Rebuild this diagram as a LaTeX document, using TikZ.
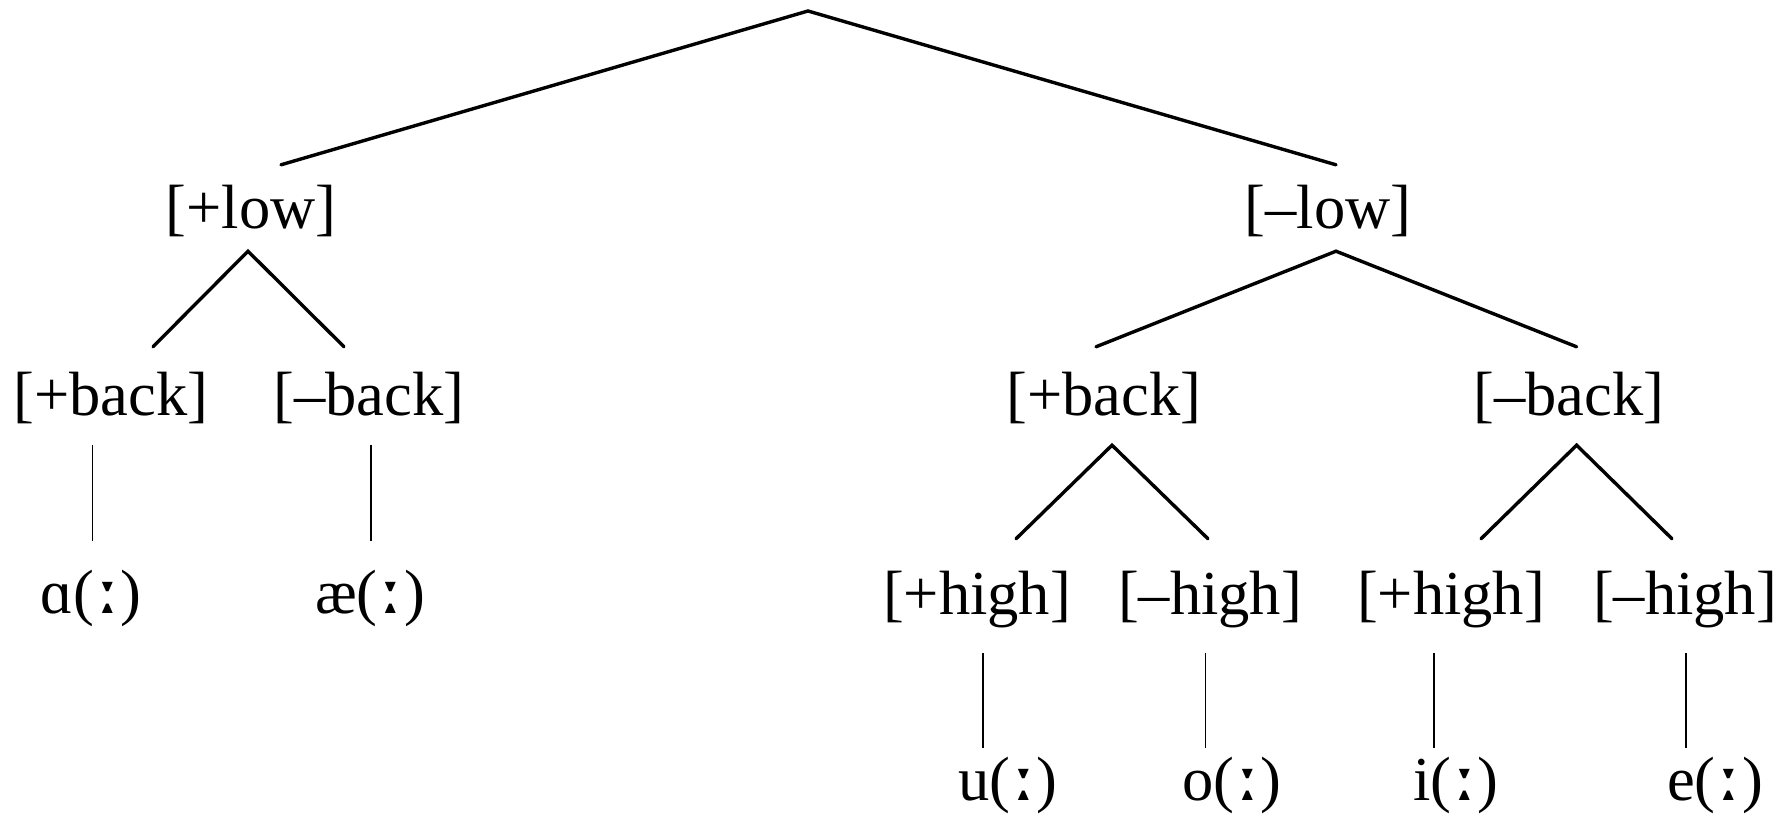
\documentclass[tikz,border=0pt]{standalone}
\usepackage{fontspec}
\setmainfont{Liberation Serif}
\newfontfamily\ipafont{DejaVu Serif}
\newcommand{\lng}{({\ipafont\bfseries\scalebox{1.15}{ː}})}

\tikzset{
  feat/.style={inner sep=0pt, anchor=base, text height=42pt, text depth=12pt,
    font=\fontsize{62.5pt}{70pt}\selectfont},
  branch/.style={line width=3.4pt, line cap=round},
  stem/.style={line width=1.9pt}
}

\begin{document}
\begin{tikzpicture}[x=1pt, y=1pt]
    \useasboundingbox (0,0) rectangle (1790,815);

    \coordinate (root) at (808,804);

    % height split
    \node (plow) [feat] at (251,586) {[+low]};
    \node (mlow) [feat] at (1328,586) {[–low]};

    % low vowels
    \node (pbackL) [feat] at (111,400) {[+back]};
    \node (mbackL) [feat] at (369,400) {[–back]};
    \node (a) [feat] at (91,202) {ɑ\lng};
    \node (ae) [feat] at (370,202) {æ\lng};

    % non-low vowels
    \node (pbackR) [feat] at (1104,400) {[+back]};
    \node (mbackR) [feat] at (1568.6,400) {[–back]};
    \node (phighB) [feat] at (977,201) {[+high]};
    \node (mhighB) [feat] at (1210,201) {[–high]};
    \node (phighF) [feat] at (1451,201) {[+high]};
    \node (mhighF) [feat] at (1685,201) {[–high]};
    \node (u) [feat] at (1008,15) {u\lng};
    \node (o) [feat] at (1232,15) {o\lng};
    \node (i) [feat] at (1456,15) {i\lng};
    \node (e) [feat] at (1715,15) {e\lng};

    \draw[branch] ([xshift=30pt,yshift=22pt]plow.north) -- (root)
                  -- ([xshift=8pt,yshift=22pt]mlow.north);

    \draw[branch] ([xshift=42pt,yshift=26pt]pbackL.north) -- ([xshift=-3pt,yshift=-10pt]plow.south)
                  -- ([xshift=-25pt,yshift=26pt]mbackL.north);
    \draw[branch] ([xshift=-8pt,yshift=26pt]pbackR.north) -- ([xshift=8pt,yshift=-10pt]mlow.south)
                  -- ([xshift=8pt,yshift=26pt]mbackR.north);

    \draw[branch] ([xshift=39pt,yshift=33pt]phighB.north) -- ([xshift=8pt,yshift=-18pt]pbackR.south)
                  -- ([xshift=-2pt,yshift=33pt]mhighB.north);
    \draw[branch] ([xshift=30pt,yshift=33pt]phighF.north) -- ([xshift=8pt,yshift=-18pt]mbackR.south)
                  -- ([xshift=-13pt,yshift=33pt]mhighF.north);

    \draw[stem] ([xshift=1.5pt,yshift=-18pt]pbackL.south -| a.north) -- ([xshift=1.5pt,yshift=30pt]a.north);
    \draw[stem] ([xshift=1pt,yshift=-18pt]mbackL.south -| ae.north) -- ([xshift=1pt,yshift=30pt]ae.north);

    \draw[stem] ([xshift=6pt,yshift=-27pt]phighB.south) -- ([xshift=-25pt,yshift=10pt]u.north);
    \draw[stem] ([xshift=-4.5pt,yshift=-27pt]mhighB.south) -- ([xshift=-26.5pt,yshift=10pt]o.north);
    \draw[stem] ([xshift=-17pt,yshift=-27pt]phighF.south) -- ([xshift=-22pt,yshift=10pt]i.north);
    \draw[stem] ([xshift=1pt,yshift=-27pt]mhighF.south) -- ([xshift=-29pt,yshift=10pt]e.north);
\end{tikzpicture}
\end{document}
